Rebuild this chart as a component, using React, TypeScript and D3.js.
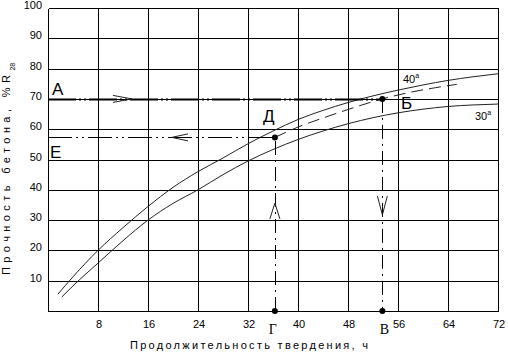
import * as d3 from 'd3';

// strength curves, % of R28 vs hardening time (h)
const hours40 = [1.6, 4, 8, 12, 16, 20, 24, 28, 32, 36, 40, 44, 48, 52, 56, 60, 64, 68, 72];
const strength40 = [5.6, 11.3, 20, 27.5, 34.5, 40.8, 46, 50.5, 55.2, 59.4, 63.2, 66.2, 68.8, 71, 72.9, 74.6, 76.1, 77.3, 78.3];
const hours30 = [2.2, 4, 8, 12, 16, 20, 24, 28, 32, 36, 40, 44, 48, 52, 56, 60, 64, 68, 72];
const strength30 = [4.6, 8.3, 15.8, 23.2, 30, 35.5, 40, 45, 49.5, 53.3, 56.6, 59.4, 61.8, 63.8, 65.4, 66.6, 67.5, 68, 68.3];
// interpolated curve (dashed) between 30 and 40 degrees
const dashHours = [36.3, 40, 44, 48, 53.5, 58, 62, 65.4];
const dashStrength = [57.3, 60.7, 63.7, 66.5, 70, 72.2, 73.7, 74.8];

const xTicks = [8, 16, 24, 32, 40, 48, 56, 64, 72];
const yTicks = [10, 20, 30, 40, 50, 60, 70, 80, 90, 100];

// key points of the reading example
const pointD = { t: 36.3, v: 57.3 };
const pointB = { t: 53.5, v: 70 };

export default function App() {
  const width = 508;
  const height = 354;
  const x = d3.scaleLinear().domain([0, 72]).range([48, 498]);
  const y = d3.scaleLinear().domain([0, 100]).range([311, 8]);
  const px = (t: number) => Math.round(x(t)) + 0.5;
  const py = (v: number) => Math.round(y(v)) + 0.5;

  const line = d3.line<[number, number]>()
    .x(d => x(d[0]))
    .y(d => y(d[1]))
    .curve(d3.curveMonotoneX);

  const c40 = line(hours40.map((h, i) => [h, strength40[i]]) as [number, number][]) || '';
  const c30 = line(hours30.map((h, i) => [h, strength30[i]]) as [number, number][]) || '';
  const cDash = line(dashHours.map((h, i) => [h, dashStrength[i]]) as [number, number][]) || '';

  const font = 'Liberation Sans, Arial, sans-serif';

  return (
    <svg width={width} height={height} style={{ position: 'absolute', left: 0, top: 0, background: '#fff' }}>
      {/* grid */}
      <g stroke="#000" strokeWidth={1} shapeRendering="crispEdges">
        {[0, ...xTicks].map(t => (
          <line key={'vx' + t} x1={px(t)} x2={px(t)} y1={py(100)} y2={py(0)} />
        ))}
        {[0, ...yTicks].map(v => (
          <line key={'hy' + v} x1={px(0)} x2={px(72)} y1={py(v)} y2={py(v)} />
        ))}
      </g>

      {/* tick labels */}
      <g fontFamily={font} fontSize={11} fill="#000">
        {yTicks.map(v => (
          <text key={'yl' + v} x={42} y={y(v) + 1} textAnchor="end">{v}</text>
        ))}
        {xTicks.map(t => (
          <text key={'xl' + t} x={x(t) + 1} y={328} textAnchor="middle">{t}</text>
        ))}
      </g>

      {/* curves */}
      <path d={c40} fill="none" stroke="#222" strokeWidth={1} />
      <path d={c30} fill="none" stroke="#222" strokeWidth={1} />
      <path d={cDash} fill="none" stroke="#222" strokeWidth={1} strokeDasharray="12,6" />

      {/* A -> B */}
      <line x1={x(0)} x2={x(pointB.t)} y1={py(pointB.v)} y2={py(pointB.v)}
        stroke="#000" strokeWidth={2} strokeDasharray="28,3,2,3,2,3" />
      <polyline points={`${x(10.4)},${y(pointB.v) - 3.5} ${x(13.4)},${y(pointB.v)} ${x(10.4)},${y(pointB.v) + 3.5}`}
        fill="none" stroke="#222" strokeWidth={1} />
      {/* B -> V */}
      <line x1={px(pointB.t)} x2={px(pointB.t)} y1={y(pointB.v)} y2={y(0)}
        stroke="#000" strokeWidth={1} strokeDasharray="14,5,2,5" />
      <polyline points={`${x(pointB.t) - 5},${y(38)} ${x(pointB.t)},${y(31.7)} ${x(pointB.t) + 5},${y(38)}`}
        fill="none" stroke="#222" strokeWidth={1} />
      {/* G -> D */}
      <line x1={px(pointD.t)} x2={px(pointD.t)} y1={y(0)} y2={y(pointD.v)}
        stroke="#000" strokeWidth={1} strokeDasharray="14,5,2,5" />
      <polyline points={`${x(pointD.t) - 5},${y(30.4)} ${x(pointD.t)},${y(35.6)} ${x(pointD.t) + 5},${y(30.4)}`}
        fill="none" stroke="#222" strokeWidth={1} />
      {/* D -> E */}
      <line x1={x(0)} x2={x(pointD.t)} y1={py(pointD.v)} y2={py(pointD.v)}
        stroke="#000" strokeWidth={1} strokeDasharray="24,4,2,4,2,4" />
      <polyline points={`${x(22.4)},${y(pointD.v) - 3.5} ${x(19.8)},${y(pointD.v)} ${x(22.4)},${y(pointD.v) + 3.5}`}
        fill="none" stroke="#222" strokeWidth={1} />

      {/* points */}
      <g fill="#000">
        <circle cx={x(pointD.t)} cy={y(pointD.v)} r={3} />
        <circle cx={x(pointD.t)} cy={y(0)} r={3} />
        <circle cx={x(pointB.t)} cy={y(pointB.v)} r={3} />
        <circle cx={x(pointB.t)} cy={y(0)} r={3} />
      </g>

      {/* letters */}
      <g fontFamily={font} fontSize={17} fill="#000">
        <text x={52} y={95}>А</text>
        <text x={50} y={158}>Е</text>
        <text x={x(pointD.t) - 6} y={122} textAnchor="middle">Д</text>
        <text x={401} y={109}>Б</text>
      </g>
      <g fontFamily="Liberation Serif, Times New Roman, serif" fontSize={14} fill="#000">
        <text x={x(pointD.t) - 2} y={334} textAnchor="middle">Г</text>
        <text x={x(pointB.t) + 2} y={334} textAnchor="middle">В</text>
      </g>

      {/* curve labels */}
      <g fontFamily={font} fontSize={11} fill="#000">
        <text x={403} y={83}>40<tspan fontSize={7} dy={-5}>a</tspan></text>
        <text x={475} y={120}>30<tspan fontSize={7} dy={-5}>a</tspan></text>
      </g>

      {/* axis titles */}
      <text x={130} y={349} fontFamily={font} fontSize={11} textLength={238} lengthAdjust="spacing">
        Продолжительность твердения, ч
      </text>
      <text transform="translate(10,275) rotate(-90)" fontFamily={font} fontSize={11}>
        <tspan textLength={200} lengthAdjust="spacing">Прочность бетона, %R</tspan>
        <tspan fontSize={7} dy={5}>28</tspan>
      </text>
    </svg>
  );
}
